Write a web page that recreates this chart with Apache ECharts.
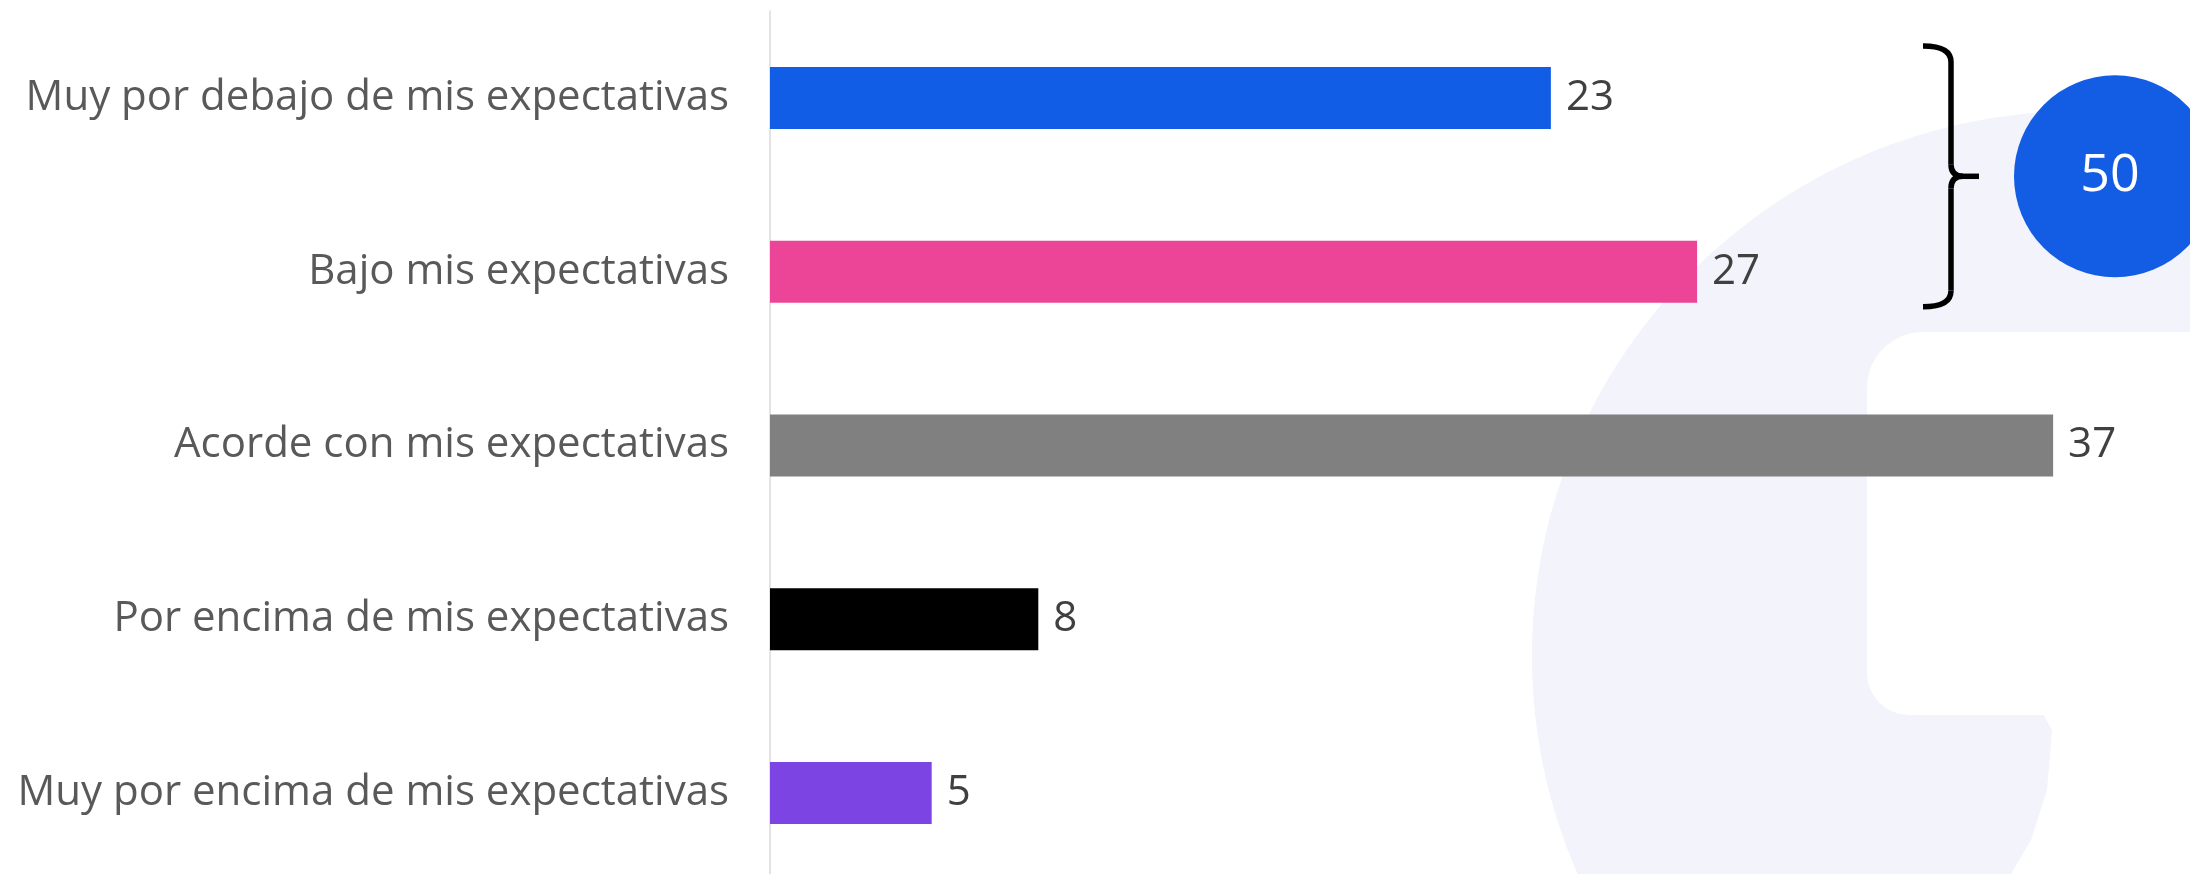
<!DOCTYPE html>
<html>
<head>
<meta charset="utf-8">
<script src="https://cdn.jsdelivr.net/npm/echarts@6/dist/echarts.min.js"></script>
<style>
  html, body { margin: 0; padding: 0; background: #fff; }
  #chart { width: 2190px; height: 874px; }
</style>
</head>
<body>
<div id="chart"></div>
<script>
// datos (%)
const categories = [
  'Muy por debajo de mis expectativas',
  'Bajo mis expectativas',
  'Acorde con mis expectativas',
  'Por encima de mis expectativas',
  'Muy por encima de mis expectativas'
]
const values = [22.7, 26.95, 37.3, 7.8, 4.7]
// categorías agrupadas por la llave
const groupIndex = [0, 1]

const barColors = ['#115de5', '#ec4496', '#808080', '#000000', '#7b44e3']
const fontName = '"Open Sans", "Noto Sans", sans-serif'

const chart = echarts.init(document.getElementById('chart'))

const option = {
  animation: false,
  backgroundColor: '#fff',
  grid: {
    left: 770,
    top: 11,
    width: 1376,
    height: 869,
    containLabel: false,
    outerBoundsMode: 'none'
  },
  xAxis: {
    type: 'value',
    min: 0,
    max: 40,
    show: false
  },
  yAxis: {
    type: 'category',
    inverse: true,
    data: categories,
    axisTick: { show: false },
    axisLine: {
      show: true,
      lineStyle: { color: '#dadada', width: 1.5 }
    },
    axisLabel: {
      margin: 41,
      fontSize: 42,
      color: '#595959',
      fontFamily: fontName
    }
  },
  series: [
    {
      type: 'bar',
      z: 3,
      barWidth: 62,
      data: values.map((v, i) => ({
        value: v,
        itemStyle: { color: barColors[i] }
      })),
      label: {
        show: true,
        position: 'right',
        distance: 15,
        fontSize: 42,
        color: '#404040',
        fontFamily: fontName,
        formatter: (p) => Math.round(p.value)
      }
    }
  ]
}

chart.setOption(option)

// llave + círculo con el total del grupo
const yFirst = chart.convertToPixel({ yAxisIndex: 0 }, groupIndex[0])
const yLast = chart.convertToPixel({ yAxisIndex: 0 }, groupIndex[groupIndex.length - 1])
const braceTop = yFirst - 52
const braceBot = yLast + 35
const braceMid = (braceTop + braceBot) / 2
const total = groupIndex.reduce((s, i) => s + Math.round(values[i]), 0)

const braceStyle = { stroke: '#000', lineWidth: 5.5, fill: null, lineCap: 'butt' }
const braceX = 1951
const braceArm = 1923
const braceTip = 1979

function curve(x1, y1, cx, cy, x2, y2) {
  return {
    type: 'bezierCurve',
    z: 10,
    shape: { x1: x1, y1: y1, cpx1: cx, cpy1: cy, x2: x2, y2: y2 },
    style: braceStyle
  }
}
function seg(x1, y1, x2, y2) {
  return {
    type: 'line',
    z: 10,
    shape: { x1: x1, y1: y1, x2: x2, y2: y2 },
    style: braceStyle
  }
}

chart.setOption({
  graphic: {
    elements: [
      // marca de agua de fondo
      {
        type: 'ellipse',
        z: 0,
        silent: true,
        shape: { cx: 2081, cy: 656, rx: 549, ry: 545 },
        style: { fill: '#f2f3fb' }
      },
      {
        type: 'rect',
        z: 1,
        silent: true,
        shape: { x: 1867, y: 332, width: 400, height: 383, r: [56, 0, 0, 42] },
        style: { fill: '#fff' }
      },
      {
        type: 'polygon',
        z: 1,
        silent: true,
        shape: { points: [[2020, 705], [2042, 712], [2052, 730], [2047, 790], [2031, 840], [2011, 874], [2200, 874], [2200, 705]] },
        style: { fill: '#fff' }
      },
      // llave
      curve(braceArm, braceTop, braceX, braceTop, braceX, braceTop + 16),
      seg(braceX, braceTop + 16, braceX, braceMid - 12),
      curve(braceX, braceMid - 12, braceX, braceMid, braceX + 12, braceMid),
      seg(braceX + 12, braceMid, braceTip, braceMid),
      curve(braceX + 12, braceMid, braceX, braceMid, braceX, braceMid + 12),
      seg(braceX, braceMid + 12, braceX, braceBot - 16),
      curve(braceX, braceBot - 16, braceX, braceBot, braceArm, braceBot),
      {
        type: 'circle',
        z: 10,
        shape: { cx: 2115, cy: braceMid, r: 101 },
        style: { fill: '#135ce4' }
      },
      {
        type: 'text',
        z: 11,
        x: 2110,
        y: braceMid,
        style: {
          text: String(total),
          fill: '#fff',
          font: '52px ' + fontName,
          align: 'center',
          verticalAlign: 'middle',
          textAlign: 'center',
          textVerticalAlign: 'middle'
        }
      }
    ]
  }
})

window.addEventListener('resize', () => {
  chart.resize()
})
</script>
</body>
</html>
